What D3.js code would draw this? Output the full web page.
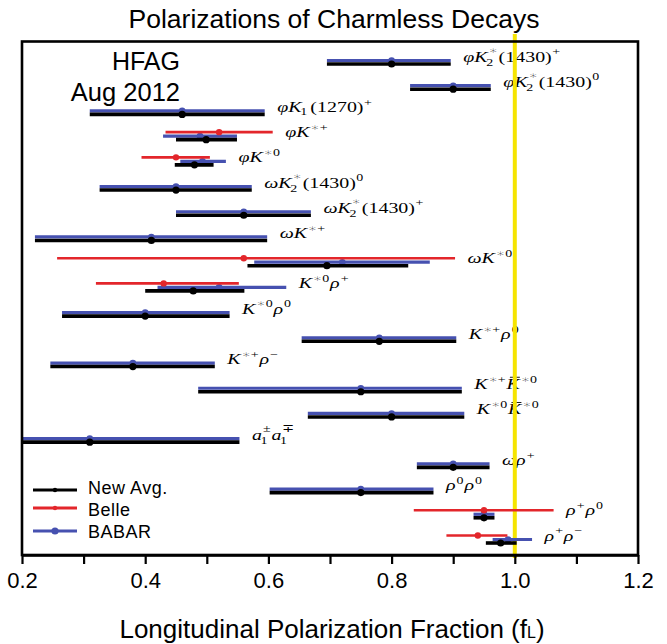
<!DOCTYPE html>
<html><head><meta charset="utf-8">
<script src="https://cdn.jsdelivr.net/npm/d3@7"></script>
<style>
html,body{margin:0;padding:0;background:#fff;}
svg{display:block;}
</style></head>
<body>
<script>
// ---------------- DATA ----------------
const categories = ["phiK2*(1430)+","phiK2*(1430)0","phiK1(1270)+","phiK*+","phiK*0",
  "omegaK2*(1430)0","omegaK2*(1430)+","omegaK*+","omegaK*0","K*0rho+","K*0rho0",
  "K*+rho0","K*+rho-","K*+K*0bar","K*0K*0bar","a1a1","omegarho+","rho0rho0","rho+rho0","rho+rho-"];
const texLabels = ["φK^∗_2(1430)^+","φK^∗_2(1430)^0","φK_1(1270)^+","φK^{∗+}","φK^{∗0}",
  "ωK^∗_2(1430)^0","ωK^∗_2(1430)^+","ωK^{∗+}","ωK^{∗0}","K^{∗0}ρ^+","K^{∗0}ρ^0",
  "K^{∗+}ρ^0","K^{∗+}ρ^−","K^{∗+}\\bar{K}^{∗0}","K^{∗0}\\bar{K}^{∗0}","a^±_1a^∓_1","ωρ^+","ρ^0ρ^0","ρ^+ρ^0","ρ^+ρ^−"];
// New average: central value, low edge, high edge
const avgVal = [0.80,0.90,0.46,0.499,0.480,0.45,0.56,0.41,0.695,0.478,0.40,0.78,0.38,0.75,0.80,0.31,0.90,0.75,0.950,0.977];
const avgLo  = [0.695,0.830,0.310,0.450,0.448,0.326,0.450,0.221,0.566,0.400,0.265,0.654,0.246,0.486,0.664,0.070,0.841,0.602,0.933,0.953];
const avgHi  = [0.896,0.961,0.594,0.549,0.511,0.573,0.669,0.598,0.827,0.561,0.537,0.905,0.513,0.914,0.918,0.553,0.959,0.868,0.967,1.003];
// BABAR
const babarVal = [0.80,0.90,0.46,0.489,0.493,0.45,0.56,0.41,0.72,0.52,0.40,0.78,0.38,0.75,0.80,0.31,0.90,0.75,0.950,0.989];
const babarLo  = [0.695,0.830,0.310,0.429,0.457,0.326,0.450,0.221,0.577,0.420,0.265,0.654,0.246,0.486,0.664,0.070,0.841,0.602,0.933,0.964];
const babarHi  = [0.896,0.961,0.594,0.549,0.531,0.573,0.669,0.598,0.862,0.629,0.537,0.905,0.513,0.914,0.918,0.553,0.959,0.868,0.967,1.028];
// Belle (null where no measurement)
const belleVal = [null,null,null,0.52,0.450,null,null,null,0.56,0.43,null,null,null,null,null,null,null,null,0.95,0.940];
const belleLo  = [null,null,null,0.433,0.394,null,null,null,0.257,0.32,null,null,null,null,null,null,null,null,0.836,0.889];
const belleHi  = [null,null,null,0.607,0.505,null,null,null,0.903,0.552,null,null,null,null,null,null,null,null,1.063,0.988];
const tickValues = [0.2,0.3,0.4,0.5,0.6,0.7,0.8,0.9,1.0,1.1,1.2];
const tickLabels = ["0.2","","0.4","","0.6","","0.8","","1.0","","1.2"];
const legendLabels = ["New Avg.","Belle","BABAR"];
const refLine = 1.0;

// ---------------- STYLE ----------------
const C = {avg:"#000000", belle:"#e3262b", babar:"#4651b0", ref:"#f5e400"};
const W = 667, H = 644;
const svg = d3.select("body").append("svg").attr("width",W).attr("height",H);
const x = d3.scaleLinear().domain([0.2,1.2]).range([22,638]);
const y = d3.scalePoint().domain(categories).range([64,543]);
const plotTop = 41.5, plotBottom = 555;
const SANS = "'Liberation Sans', Arial, Helvetica, sans-serif";
const SERIF = "'Liberation Serif', 'Times New Roman', serif";

svg.append("defs").append("clipPath").attr("id","plotclip")
  .append("rect").attr("x",x(0.2)).attr("y",plotTop).attr("width",x(1.2)-x(0.2)).attr("height",plotBottom-plotTop);

// Title
svg.append("text").attr("x",334).attr("y",28).attr("text-anchor","middle")
  .attr("font-family",SANS).attr("font-size",26.5).text("Polarizations of Charmless Decays");

// HFAG stamp
svg.append("text").attr("x",180).attr("y",70).attr("text-anchor","end")
  .attr("font-family",SANS).attr("font-size",25).text("HFAG");
svg.append("text").attr("x",180).attr("y",101).attr("text-anchor","end")
  .attr("font-family",SANS).attr("font-size",25.5).text("Aug 2012");

// --------- mini TeX label renderer (one <text> per label) ---------
function readGroup(s,i){
  if(s[i]==="{"){ let j=s.indexOf("}",i); return [s.slice(i+1,j), j+1]; }
  return [s[i], i+1];
}
function parseTex(s){
  const atoms=[]; let i=0;
  while(i<s.length){
    const c=s[i];
    if(c==="\\"){ let j=i+1; while(/[a-z]/.test(s[j])) j++; const cmd=s.slice(i+1,j);
      const [g,k]=readGroup(s,j); atoms.push({text:g,italic:true,bar:cmd==="bar"}); i=k; }
    else if(c==="^"){ const [g,k]=readGroup(s,i+1); atoms[atoms.length-1].sup=g; i=k; }
    else if(c==="_"){ const [g,k]=readGroup(s,i+1); atoms[atoms.length-1].sub=g; i=k; }
    else { atoms.push({text:c, italic:/[A-Za-z\u0370-\u03ff]/.test(c)}); i++; }
  }
  return atoms;
}
const FS = 15;
const SS = FS*0.7;
const STRETCH = 1.33;
function drawTex(parent, x0, y0, tex){
  const g = parent.append("g").attr("transform",`translate(${x0},${y0}) scale(${STRETCH},1)`);
  const t = g.append("text").attr("font-family",SERIF).attr("font-size",FS);
  let cx = 0;
  function script(sx, sy, str){
    let w = 0;
    [...str].forEach(ch=>{
      const isStar = ch==="∗";
      const ts = t.append("tspan").attr("x",sx+w).attr("y", sy)
        .attr("font-size", isStar ? SS*1.02 : SS)
        .attr("font-family", isStar ? "'DejaVu Sans', sans-serif" : SERIF)
        .attr("font-weight", isStar ? 300 : null)
        .text(ch);
      w += ts.node().getComputedTextLength() + (isStar ? 0.2 : 0);
    });
    return w;
  }
  parseTex(tex).forEach(a=>{
    const ts = t.append("tspan").attr("x",cx).attr("y",0)
      .attr("font-style",a.italic?"italic":"normal").text(a.text);
    const w = ts.node().getComputedTextLength();
    if(a.bar){ g.append("line").attr("x1",cx+2.5).attr("x2",cx+w).attr("y1",-FS*0.8).attr("y2",-FS*0.8)
      .attr("stroke","#000").attr("stroke-width",0.9); }
    cx += w;
    let ws = 0;
    const sx = cx + (a.italic?0.8:0.4);
    const stacked = a.sup && a.sub;
    if(a.sup){ ws = Math.max(ws, script(sx, stacked ? -FS*0.5 : -FS*0.42, a.sup)); }
    if(a.sub){ ws = Math.max(ws, script(sx-(a.italic?1.8:0), stacked ? FS*0.3 : FS*0.22, a.sub)); }
    if(a.sup||a.sub) cx = sx + ws + 0.6;
  });
}

// Labels
const labG = svg.append("g");
categories.forEach((c,i)=>{
  const hi = Math.max(avgHi[i], babarHi[i], belleHi[i]==null?0:belleHi[i]);
  drawTex(labG, x(hi)+12.5, y(c)-2.5, texLabels[i]);
});

// Reference line at fL = 1
svg.append("line").attr("x1",x(refLine)).attr("x2",x(refLine)).attr("y1",34).attr("y2",plotBottom+3)
  .attr("stroke",C.ref).attr("stroke-width",4);

// Error bars
const barG = svg.append("g").attr("clip-path","url(#plotclip)");
function series(vals,lo,hi,off,color,sw,r){
  categories.forEach((c,i)=>{
    if(vals[i]==null) return;
    const yy = y(c)+off;
    barG.append("line").attr("x1",x(lo[i])).attr("x2",x(hi[i])).attr("y1",yy).attr("y2",yy)
      .attr("stroke",color).attr("stroke-width",sw);
    barG.append("circle").attr("cx",x(vals[i])).attr("cy",yy).attr("r",r).attr("fill",color);
  });
}
series(babarVal,babarLo,babarHi,-3.5,C.babar,3.2,3.3);
series(belleVal,belleLo,belleHi,-7.5,C.belle,2.6,3.2);
series(avgVal,avgLo,avgHi,0,C.avg,3.6,3.6);

// Frame
svg.append("rect").attr("x",x(0.2)).attr("y",plotTop).attr("width",x(1.2)-x(0.2)).attr("height",plotBottom-plotTop)
  .attr("fill","none").attr("stroke","#000").attr("stroke-width",2.6);

// X axis
const ax = svg.append("g").attr("transform",`translate(0,${plotBottom})`)
  .call(d3.axisBottom(x).tickValues(tickValues).tickSize(9).tickSizeOuter(0).tickPadding(8)
     .tickFormat((d,i)=>tickLabels[i]));
ax.select(".domain").attr("stroke-width",2.6);
ax.selectAll(".tick line").attr("stroke-width",2.2);
ax.selectAll(".tick text").attr("font-family",SANS).attr("font-size",22).attr("fill","#000");

// X axis title
const xt = svg.append("text").attr("x",332).attr("y",638).attr("text-anchor","middle")
  .attr("font-family",SANS).attr("font-size",26);
xt.append("tspan").text("Longitudinal Polarization Fraction (f");
xt.append("tspan").attr("font-size",16).text("L");
xt.append("tspan").text(")");

// Legend
const legColors = [C.avg, C.belle, C.babar];
const legR = [2.2, 2.2, 3.6];
const legY = [490, 508, 531];
const legTextY = [493.5, 516, 538];
const lg = svg.append("g");
legendLabels.forEach((t,i)=>{
  lg.append("line").attr("x1",33).attr("x2",77).attr("y1",legY[i]).attr("y2",legY[i])
    .attr("stroke",legColors[i]).attr("stroke-width",3);
  lg.append("circle").attr("cx",55).attr("cy",legY[i]).attr("r",legR[i]).attr("fill",legColors[i]);
  lg.append("text").attr("x",88).attr("y",legTextY[i]).attr("font-family",SANS)
    .attr("font-size",18).attr("letter-spacing",0.5).text(t);
});
</script>
</body></html>
